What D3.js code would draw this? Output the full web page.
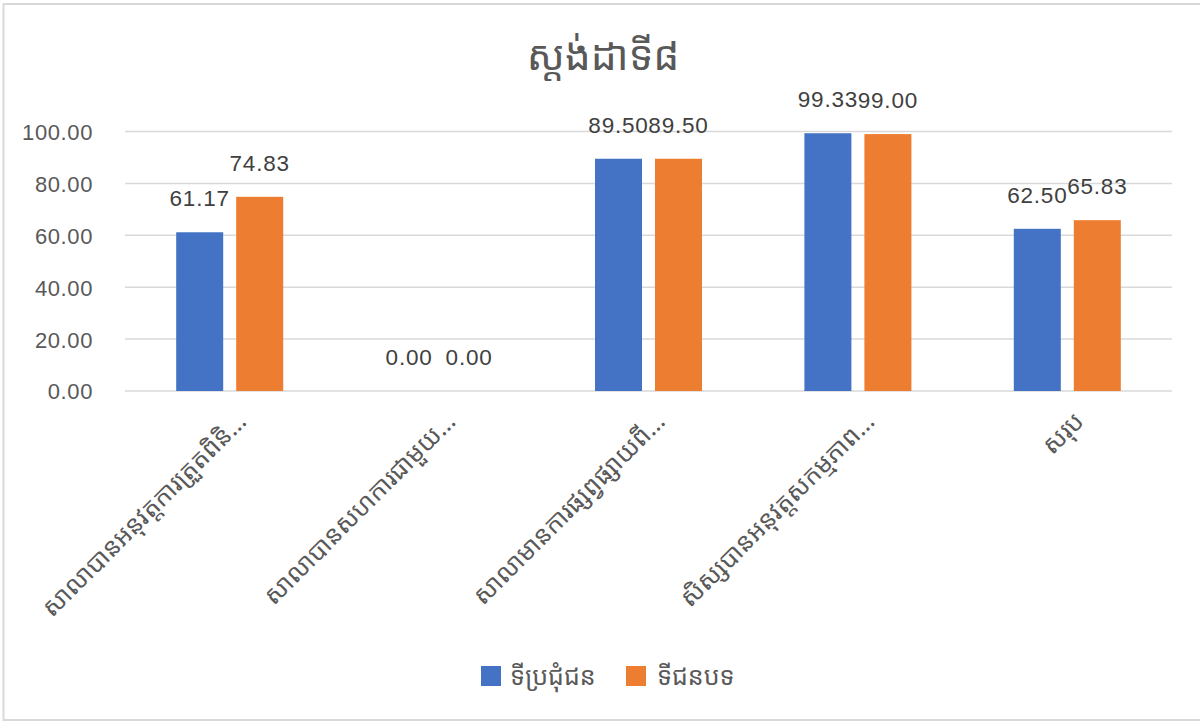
<!DOCTYPE html>
<html>
<head>
<meta charset="utf-8">
<script src="https://cdn.jsdelivr.net/npm/d3@7"></script>
<style>
  html, body { margin: 0; padding: 0; background: #ffffff; }
  svg { display: block; }
</style>
</head>
<body>
<svg id="chart" width="1200" height="722"></svg>
<script>
// ---- data ----
const title = "ស្តង់ដាទី៨";
const categories = [
  "សាលាបានអនុវត្តការត្រួតពិនិ…",
  "សាលាបានសហការជាមួយ…",
  "សាលាមានការផ្សព្វផ្សាយពី…",
  "សិស្សបានអនុវត្តសកម្មភាព…",
  "សរុប"
];
const seriesNames = ["ទីប្រជុំជន", "ទីជនបទ"];
const urbanValues = [61.17, 0.00, 89.50, 99.33, 62.50];
const ruralValues = [74.83, 0.00, 89.50, 99.00, 65.83];
const yTicks = [0, 20, 40, 60, 80, 100];
const colors = ["#4472C4", "#ED7D31"];

// ---- drawing ----
const svg = d3.select("#chart");
const khmerFont = "'Noto Sans Khmer', 'Khmer OS System', 'Khmer OS', 'Leelawadee UI', 'Noto Sans', sans-serif";
const numFont = "'Liberation Sans', Arial, Helvetica, sans-serif";

// outer border (cropped on the right like the reference)
svg.append("rect")
  .attr("x", 3.5).attr("y", 4)
  .attr("width", 1210).attr("height", 716)
  .attr("fill", "none")
  .attr("stroke", "#d9d9d9")
  .attr("stroke-width", 2);

const plotLeft = 125, plotRight = 1172, plotTop = 131.5, plotBottom = 391;

const x0 = d3.scaleBand()
  .domain(categories)
  .range([plotLeft, plotRight])
  .paddingInner(0.489)
  .paddingOuter(0.2445);

const x1 = d3.scaleBand()
  .domain(seriesNames)
  .range([0, x0.bandwidth()])
  .paddingInner(13 / 60)
  .paddingOuter(0);

const y = d3.scaleLinear().domain([0, 100]).range([plotBottom, plotTop]);

// gridlines
svg.append("g")
  .selectAll("line")
  .data(yTicks)
  .join("line")
  .attr("x1", plotLeft).attr("x2", plotRight)
  .attr("y1", d => y(d)).attr("y2", d => y(d))
  .attr("stroke", "#d9d9d9")
  .attr("stroke-width", 1.5);

// y axis labels
const yAxis = d3.axisLeft(y).tickValues(yTicks).tickFormat(d3.format(".2f")).tickSize(0).tickPadding(0);
const yG = svg.append("g")
  .attr("transform", `translate(93,0)`)
  .call(yAxis);
yG.select(".domain").remove();
yG.selectAll("text")
  .attr("font-family", numFont)
  .attr("font-size", 22)
  .attr("letter-spacing", "0.6px")
  .attr("fill", "#595959")
  .attr("dy", "0.36em");

// bars
const rows = categories.map((c, i) => ({ cat: c, vals: [urbanValues[i], ruralValues[i]] }));
const groups = svg.append("g")
  .selectAll("g")
  .data(rows)
  .join("g")
  .attr("transform", d => `translate(${x0(d.cat)},0)`);

groups.selectAll("rect")
  .data(d => d.vals.map((v, j) => ({ name: seriesNames[j], v, j })))
  .join("rect")
  .attr("x", d => x1(d.name))
  .attr("width", x1.bandwidth())
  .attr("y", d => y(d.v))
  .attr("height", d => y(0) - y(d.v))
  .attr("fill", d => colors[d.j]);

// data labels
groups.selectAll("text.lbl")
  .data(d => d.vals.map((v, j) => ({ name: seriesNames[j], v, j })))
  .join("text")
  .attr("class", "lbl")
  .attr("x", d => x1(d.name) + x1.bandwidth() / 2)
  .attr("y", d => y(d.v) - 26)
  .attr("text-anchor", "middle")
  .attr("font-family", numFont)
  .attr("font-size", 22.5)
  .attr("letter-spacing", "0.8px")
  .attr("fill", "#404040")
  .text(d => d3.format(".2f")(d.v));

// x axis labels (rotated)
const xAxis = d3.axisBottom(x0).tickSize(0).tickPadding(0);
const xG = svg.append("g")
  .call(xAxis);
xG.select(".domain").remove();
xG.selectAll(".tick").attr("transform", d => `translate(${x0(d) + x0.bandwidth() / 2 + 18},423)`);
xG.selectAll(".tick text")
  .attr("x", 0).attr("y", 0).attr("dy", 0)
  .attr("transform", "rotate(-45)")
  .attr("text-anchor", "end")
  .attr("font-family", khmerFont)
  .attr("font-size", 25)
  .attr("fill", "#595959");

// title
svg.append("text")
  .attr("x", 603).attr("y", 70)
  .attr("text-anchor", "middle")
  .attr("font-family", khmerFont)
  .attr("font-size", 41)
  .attr("fill", "#595959")
  .text(title);

// legend
const legendItems = [
  { name: seriesNames[0], color: colors[0], sx: 481, tx: 510 },
  { name: seriesNames[1], color: colors[1], sx: 626, tx: 657 }
];
const lg = svg.append("g");
lg.selectAll("rect")
  .data(legendItems)
  .join("rect")
  .attr("x", d => d.sx).attr("y", 666)
  .attr("width", 20).attr("height", 20)
  .attr("fill", d => d.color);
lg.selectAll("text")
  .data(legendItems)
  .join("text")
  .attr("x", d => d.tx).attr("y", 685)
  .attr("font-family", khmerFont)
  .attr("font-size", 25)
  .attr("fill", "#595959")
  .text(d => d.name);
</script>
</body>
</html>
